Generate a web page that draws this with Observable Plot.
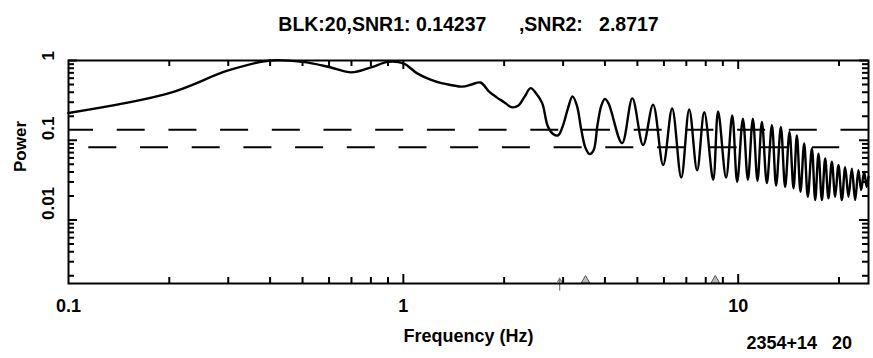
<!DOCTYPE html>
<html>
<head>
<meta charset="utf-8">
<script src="https://cdn.jsdelivr.net/npm/d3@7"></script>
<script src="https://cdn.jsdelivr.net/npm/@observablehq/plot@0.6"></script>
<style>
  html, body { margin: 0; padding: 0; background: #fff; }
  svg { display: block; }
  #wrap { position: relative; width: 873px; height: 358px; }
  #wrap > svg.overlay { position: absolute; left: 0; top: 0; pointer-events: none; }
</style>
</head>
<body>
<div id="wrap"></div>
<script>
// ---- data ----
const freq = [0.1,0.2,0.3,0.4,0.5,0.6,0.7,0.8,0.9,1.0,1.1,1.2,1.3,1.4,1.5,1.6,1.7,1.8,1.9,2.0,
  2.1,2.2,2.3,2.4,2.5,2.6,2.7,2.8,2.9,3.0,3.1,3.2,3.3,3.4,3.5,3.6,3.7,3.8,3.9,4.0,4.1,
  4.5,4.83,5.2,5.57,5.97,6.35,6.76,7.14,7.54,7.92,8.42,8.71,9.2,9.6,9.93,10.33,10.69,11.06,
  11.42,11.77,12.18,12.61,12.98,13.41,13.81,14.23,14.63,14.97,15.35,15.74,16.14,16.6,16.98,
  17.37,17.78,18.19,18.6,19.04,19.48,19.93,20.4,20.87,21.35,21.85,22.35,22.86,23.29,23.77,24.2,24.5];
const power = [0.22,0.39,0.75,1.0,0.96,0.83,0.71,0.82,0.96,0.92,0.69,0.58,0.52,0.49,0.47,0.50,0.53,0.41,0.345,0.30,
  0.26,0.27,0.35,0.45,0.38,0.29,0.15,0.12,0.115,0.155,0.25,0.355,0.27,0.135,0.08,0.067,0.075,0.155,0.27,0.33,0.29,
  0.092,0.335,0.087,0.28,0.049,0.25,0.034,0.244,0.042,0.224,0.032,0.23,0.034,0.205,0.03,0.187,0.032,0.187,
  0.031,0.17,0.029,0.154,0.027,0.147,0.026,0.127,0.025,0.115,0.0226,0.091,0.0196,0.079,0.0178,
  0.068,0.0178,0.059,0.0187,0.054,0.0196,0.049,0.0178,0.046,0.0196,0.044,0.0178,0.042,0.0237,0.04,0.026,0.035];

const thresholds = [0.135, 0.082];        // dashed levels
const thresholdEnds = [24.5, 20.1];       // frequency where each dashed line stops
const arrowFreqs = [2.93];
const triangleFreqs = [3.5, 8.54];

const xMajor = [0.1, 1, 10];
const xMinor = [0.2,0.3,0.4,0.5,0.6,0.7,0.8,0.9,2,3,4,5,6,7,8,9,20];
const yMajor = [0.01, 0.1, 1];
const yMinor = [0.002,0.003,0.004,0.005,0.006,0.007,0.008,0.009,
                0.02,0.03,0.04,0.05,0.06,0.07,0.08,0.09,
                0.2,0.3,0.4,0.5,0.6,0.7,0.8,0.9];
const xTickLabels = ["0.1", "1", "10"];
const yTickLabels = ["0.01", "0.1", "1"];

const titleText = "BLK:20,SNR1: 0.14237      ,SNR2:   2.8717";
const xLabel = "Frequency (Hz)";
const yLabel = "Power";
const footer = "2354+14   20";

// ---- build ----
const spectrum = freq.map((f, i) => ({f, p: power[i]}));
const W = 873, H = 358;
const mL = 68, mR = 5, mT = 60, mB = 75;
const fw = W - mL - mR, fh = H - mT - mB;
const font = "'Liberation Sans', Arial, sans-serif";
const txt = {fontFamily: font, fontWeight: "bold", fill: "#000"};
const layout = {
  width: W, height: H,
  marginLeft: mL, marginRight: mR, marginTop: mT, marginBottom: mB,
  x: {type: "log", domain: [0.1, 24.5], axis: null},
  y: {type: "log", domain: [0.0016, 1], axis: null}
};

const arrowSym = {draw(ctx) {
  ctx.moveTo(0, 7); ctx.lineTo(0, -5);
  ctx.moveTo(-2.2, -1.5); ctx.lineTo(0, -5); ctx.lineTo(2.2, -1.5);
}};
const K = {stroke: "#000", strokeWidth: 2};

// main chart: data, labels
const chart = Plot.plot({
  ...layout,
  style: {background: "#fff", overflow: "visible"},
  marks: [
    Plot.ruleY([0], {y: () => thresholds[0], x1: 0.1, x2: thresholdEnds[0], stroke: "#000", strokeWidth: 2, strokeDasharray: "28,23.7", strokeDashoffset: 3}),
    Plot.ruleY([1], {y: () => thresholds[1], x1: 0.1, x2: thresholdEnds[1], stroke: "#000", strokeWidth: 2, strokeDasharray: "28,23.7", strokeDashoffset: 31.4}),
    Plot.line(spectrum, {x: "f", y: "p", stroke: "#000", strokeWidth: 2.4, curve: "catmull-rom"}),
    Plot.dot(arrowFreqs, {x: d => d, frameAnchor: "bottom", symbol: arrowSym, r: 1, stroke: "#777", fill: "none", strokeWidth: 1.2}),
    Plot.dot(triangleFreqs, {x: d => d, frameAnchor: "bottom", dy: -3, symbol: "triangle", r: 3.2, fill: "#bbb", stroke: "#555", strokeWidth: 1}),
    Plot.text(xMajor, {x: d => d, text: (d, i) => xTickLabels[i], frameAnchor: "bottom", dy: 28, fontSize: 18, ...txt}),
    Plot.text(yMajor, {y: d => d, text: (d, i) => yTickLabels[i], frameAnchor: "left", dx: -20, rotate: -90, fontSize: 17, ...txt}),
    Plot.text([yLabel], {frameAnchor: "left", dx: -48, rotate: -90, fontSize: 17, ...txt}),
    Plot.text([xLabel], {frameAnchor: "bottom", dy: 58, fontSize: 18, ...txt}),
    Plot.text([titleText], {frameAnchor: "top", dy: -43, fontSize: 19.5, ...txt}),
    Plot.text([footer], {frameAnchor: "bottom-right", dx: -122, dy: 65, textAnchor: "start", fontSize: 18, ...txt})
  ]
});

// overlay chart with the same scales: frame and inward ticks on all four sides
const axes = Plot.plot({
  ...layout,
  style: {background: "transparent", overflow: "visible"},
  marks: [
    Plot.frame({stroke: "#000", strokeWidth: 2}),
    Plot.ruleX(xMajor.slice(1), {x: d => d, insetTop: fh - 9, ...K}),
    Plot.ruleX(xMajor.slice(1), {x: d => d, insetBottom: fh - 9, ...K}),
    Plot.ruleX(xMinor, {x: d => d, insetTop: fh - 6, ...K}),
    Plot.ruleX(xMinor, {x: d => d, insetBottom: fh - 6, ...K}),
    Plot.ruleY(yMajor, {y: d => d, insetRight: fw - 9, ...K}),
    Plot.ruleY(yMajor, {y: d => d, insetLeft: fw - 9, ...K}),
    Plot.ruleY(yMinor, {y: d => d, insetRight: fw - 6, ...K}),
    Plot.ruleY(yMinor, {y: d => d, insetLeft: fw - 6, ...K})
  ]
});
axes.classList.add("overlay");

const wrap = document.getElementById("wrap");
wrap.append(chart);
wrap.append(axes);
</script>
</body>
</html>
